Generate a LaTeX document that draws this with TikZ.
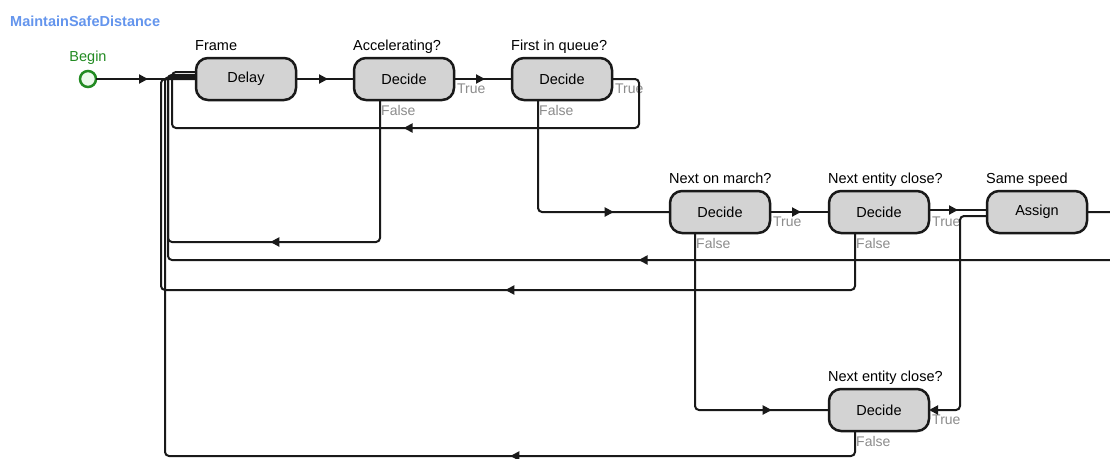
\documentclass[tikz,border=0pt]{standalone}
\usepackage{fontspec}
\setmainfont{Liberation Sans}
\usetikzlibrary{arrows.meta,decorations.markings}
\definecolor{titleblue}{RGB}{100,149,237}
\definecolor{begingreen}{RGB}{34,139,34}
\definecolor{beginfill}{RGB}{236,250,236}
\definecolor{boxfill}{RGB}{211,211,211}
\definecolor{tfgray}{RGB}{140,140,140}
\tikzset{
  blk/.style={draw=black!90, line width=2.5pt, fill=boxfill, rounded corners=12pt,
    minimum width=100pt, minimum height=42pt, inner sep=0pt, outer sep=0pt,
    font=\fontsize{14.5}{17}\selectfont},
  lbl/.style={inner sep=0pt, anchor=base west, font=\fontsize{14.5}{17}\selectfont},
  tf/.style={inner sep=0pt, anchor=west, text=tfgray, font=\fontsize{14}{16}\selectfont},
  conn/.style={line width=2pt, draw=black!90, rounded corners=4pt},
  arrowat/.style={postaction={decorate,decoration={markings,
    mark=at position #1 with {\arrow{Triangle[length=9pt,width=9pt]}}}}},
  beginc/.style={circle, draw=begingreen, fill=beginfill, line width=2.5pt,
    minimum size=16pt, inner sep=0pt, outer sep=0pt},
}
\begin{document}
\begin{tikzpicture}[x=1pt,y=-1pt]
\clip (0,0) rectangle (1110,458);
\fill[white] (0,0) rectangle (1110,458);

\node[inner sep=0pt, anchor=base west, text=titleblue, font=\fontsize{14.5}{17}\selectfont\bfseries] (title) at (10,26) {MaintainSafeDistance};

% start
\node[beginc] (begin) at (88,79) {};
\node[inner sep=0pt, anchor=base, text=begingreen, font=\fontsize{14.5}{17}\selectfont] (beginl) at (88,61) {Begin};

% blocks
\node[blk] (delay) at (246,79) {Delay};
\node[blk] (acc) at (404,79) {Decide};
\node[blk] (fiq) at (562,79) {Decide};
\node[blk] (nom) at (720,212) {Decide};
\node[blk] (nec) at (879,212) {Decide};
\node[blk] (same) at (1037,212) {Assign};
\node[blk] (nec2) at (879,410) {Decide};

% titles above blocks
\node[lbl] (delayl) at ([xshift=-1pt,yshift=8pt]delay.north west) {Frame};
\node[lbl] (accl) at ([xshift=-1pt,yshift=8pt]acc.north west) {Accelerating?};
\node[lbl] (fiql) at ([xshift=-1pt,yshift=8pt]fiq.north west) {First in queue?};
\node[lbl] (noml) at ([xshift=-1pt,yshift=8pt]nom.north west) {Next on march?};
\node[lbl] (necl) at ([xshift=-1pt,yshift=8pt]nec.north west) {Next entity close?};
\node[lbl] (samel) at ([xshift=-1pt,yshift=8pt]same.north west) {Same speed};
\node[lbl] (nec2l) at ([xshift=-1pt,yshift=8pt]nec2.north west) {Next entity close?};

% True / False labels
\node[tf] (accT) at ([xshift=3pt,yshift=-10pt]acc.east) {True};
\node[tf] (accF) at ([xshift=-23pt,yshift=-10pt]acc.south) {False};
\node[tf] (fiqT) at ([xshift=3pt,yshift=-10pt]fiq.east) {True};
\node[tf] (fiqF) at ([xshift=-23pt,yshift=-10pt]fiq.south) {False};
\node[tf] (nomT) at ([xshift=3pt,yshift=-10pt]nom.east) {True};
\node[tf] (nomF) at ([xshift=-24pt,yshift=-10pt]nom.south) {False};
\node[tf] (necT) at ([xshift=3pt,yshift=-10pt]nec.east) {True};
\node[tf] (necF) at ([xshift=-23pt,yshift=-10pt]nec.south) {False};
\node[tf] (nec2T) at ([xshift=3pt,yshift=-10pt]nec2.east) {True};
\node[tf] (nec2F) at ([xshift=-23pt,yshift=-10pt]nec2.south) {False};

% main flow
\draw[conn, arrowat=52pt] (begin.east) -- (delay.west);
\draw[conn, arrowat=32pt] (delay.east) -- (acc.west);
\draw[conn, arrowat=31pt] (acc.east) -- (fiq.west);
\draw[conn, arrowat=186pt] ([xshift=-24pt]fiq.south) |- (nom.west);
\draw[conn, arrowat=31pt] (nom.east) -- (nec.west);
\draw[conn, arrowat=29pt] ([yshift=2pt]nec.east) -- ([yshift=2pt]same.west);
\draw[conn, arrowat=252pt] ([xshift=-25pt]nom.south) |- (nec2.west);
\draw[conn, -{Triangle[length=9pt,width=9pt]}] ([yshift=-4pt]same.west) -- (960,216) -- (960,410) -- (nec2.east);

% return loops to Delay
\draw[conn, arrowat=308pt] (fiq.east) -- ++(27,0) |- (172,128) -- (172,72) -- ([yshift=7pt]delay.west);
\draw[conn, arrowat=250pt] ([xshift=-24pt]acc.south) |- (168,242) -- (168,75) -- ([yshift=4pt]delay.west);
\draw[conn, arrowat=567pt] (same.east) -- ++(37,0) |- (168,260) -- (168,75) -- ([yshift=4pt]delay.west);
\draw[conn, arrowat=405pt] ([xshift=-24pt]nec.south) |- (161,290) -- (161,79) -- (delay.west);
\draw[conn, arrowat=368pt] ([xshift=-24pt]nec2.south) |- (165,456) -- (165,77) -- ([yshift=2pt]delay.west);
\end{tikzpicture}
\end{document}
